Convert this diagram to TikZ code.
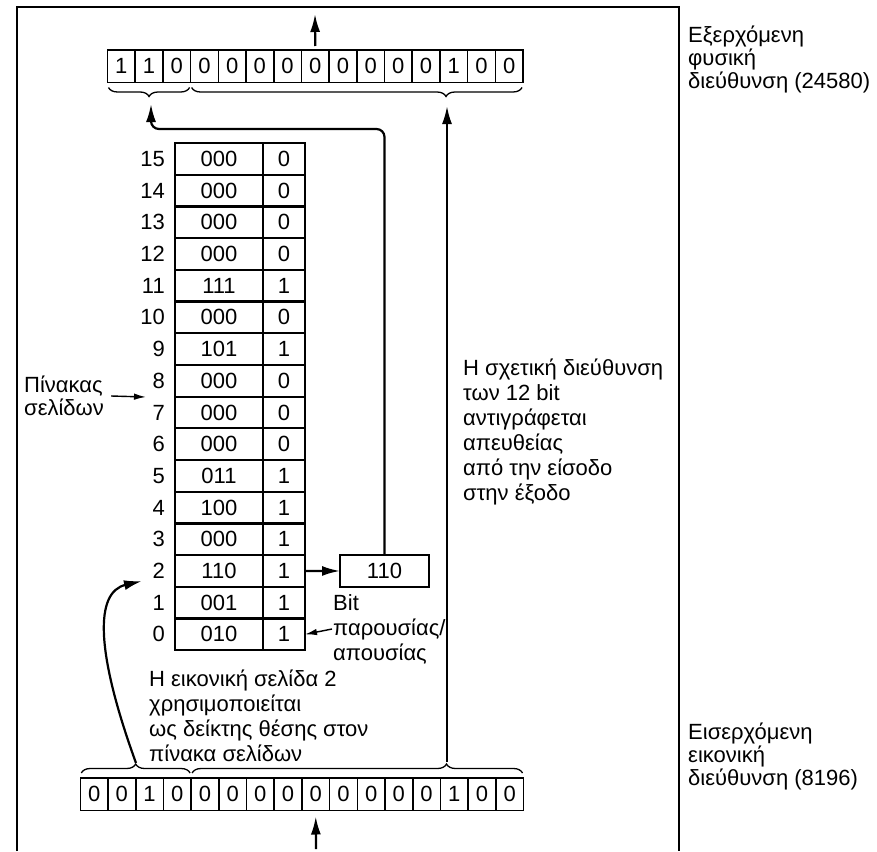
\documentclass[tikz,border=0pt]{standalone}
\usepackage{fontspec}
\setmainfont{Liberation Sans}
\usetikzlibrary{arrows.meta,calc,positioning,decorations.pathreplacing}
\tikzset{
  bitcell/.style={draw, line width=1.6pt, minimum width=27.7pt, minimum height=32.5pt, inner sep=0pt, outer sep=0pt, anchor=north west},
  frcell/.style={draw, line width=2.2pt, minimum width=88pt, minimum height=31.7pt, inner sep=0pt, outer sep=0pt},
  prcell/.style={frcell, minimum width=42pt},
  rowno/.style={inner sep=0pt},
  lbl/.style={align=left, inner sep=0pt, anchor=west},
  brcdn/.style={decorate, decoration={brace, mirror, amplitude=9pt, aspect=#1}, line width=1.3pt},
  brcup/.style={decorate, decoration={brace, amplitude=9pt, aspect=#1}, line width=1.3pt},
  arr/.style={-{Latex[length=18pt,width=10pt]}, line width=2.2pt},
  arrs/.style={-{Latex[length=12pt,width=6.5pt]}, line width=1.4pt}
}

\begin{document}
\begin{tikzpicture}[x=1pt, y=-1pt, font=\fontsize{22}{25}\selectfont]
  \useasboundingbox (0,0) rectangle (877,851);
  %%%%% FRAME %%%%%
  \draw[line width=2.4pt] (17,851) |- (679,7) -- (679,851);

  %%%%% REGISTERS %%%%%
  \foreach \b [count=\i from 0] in {1,1,0,0,0,0,0,0,0,0,0,0,1,0,0}
    \node[bitcell] (out\i) at ({107.5+27.7*\i},50) {\b};
  \foreach \b [count=\i from 0] in {0,0,1,0,0,0,0,0,0,0,0,0,0,1,0,0}
    \node[bitcell] (in\i) at ({80.3+27.7*\i},778) {\b};

  \draw[brcdn=0.5] ([xshift=1pt,yshift=-5pt]out0.south west) -- ([xshift=-1pt,yshift=-5pt]out2.south east);
  \draw[brcdn=0.77] ([xshift=1pt,yshift=-5pt]out3.south west) -- ([xshift=-1pt,yshift=-5pt]out14.south east);
  \draw[brcup=0.5] ([xshift=1pt,yshift=5pt]in0.north west) -- ([xshift=-1pt,yshift=5pt]in3.north east);
  \draw[brcup=0.77] ([xshift=1pt,yshift=5pt]in4.north west) -- ([xshift=-1pt,yshift=5pt]in15.north east);

  \coordinate (outarr) at (315,14);
  \coordinate (inarr) at (316,849);
  \coordinate (pgtip) at (151,104);
  \coordinate (offtop) at (447,106);
  \coordinate (vpn) at (136,763);
  \coordinate (offbot) at (447,762);
  \coordinate (rowptr) at (142,581);
  \coordinate (ptptr) at (146,397);

  \draw[arr] ([yshift=4pt]out7.north) -- (outarr);
  \draw[arr] (inarr) -- ([yshift=-6pt]in8.south);

  %%%%% PAGE TABLE %%%%%
  \foreach \f/\p [count=\r from 0] in {010/1,001/1,110/1,000/1,100/1,011/1,000/0,000/0,000/0,101/1,000/0,111/1,000/0,000/0,000/0,000/0} {
    \node[frcell, anchor=north west] (fr\r) at (175,{143+(15-\r)*31.7}) {\f};
    \node[prcell, right=0pt of fr\r] (pb\r) {\p};
    \node[rowno, left=10pt of fr\r] (rn\r) {\r};
  }

  \node[frcell, minimum width=89pt, minimum height=32pt] (pfout) at (384.5,571) {110};
  \draw[arr] (pb2) -- (pfout);
  \draw[arr, rounded corners=8pt] (pfout.north) |- ($(pgtip)+(0,25)$) -- (pgtip);
  \draw[arr] (offbot) -- (offtop);
  \draw[arr] (vpn) .. controls (95,650) and (95,592) .. (rowptr);

  %%%%% LABELS %%%%%
  \node[lbl, font=\fontsize{22}{23}\selectfont] (ptlab) at (24,396) {Πίνακας\\σελίδων};
  \draw[arrs] ([xshift=7pt]ptlab.east) -- (ptptr);
  \node[lbl, inner sep=1pt] (bitlab) at (332,629) {Bit\\παρουσίας/\\απουσίας};
  \draw[arrs] (bitlab.west) -- (pb0.east);
  \node[lbl] (vpnlab) at (149,716) {Η εικονική σελίδα 2\\χρησιμοποιείται\\ως δείκτης θέσης στον\\πίνακα σελίδων};
  \node[lbl] (offlab) at (463,432) {Η σχετική διεύθυνση\\των 12 bit\\αντιγράφεται\\απευθείας\\από την είσοδο\\στην έξοδο};
  \node[lbl, font=\fontsize{22}{23}\selectfont] (outlab) at (688,59) {Εξερχόμενη\\φυσική\\διεύθυνση (24580)};
  \node[lbl, font=\fontsize{22}{23}\selectfont] (inlab) at (688,756) {Εισερχόμενη\\εικονική\\διεύθυνση (8196)};
\end{tikzpicture}
\end{document}
